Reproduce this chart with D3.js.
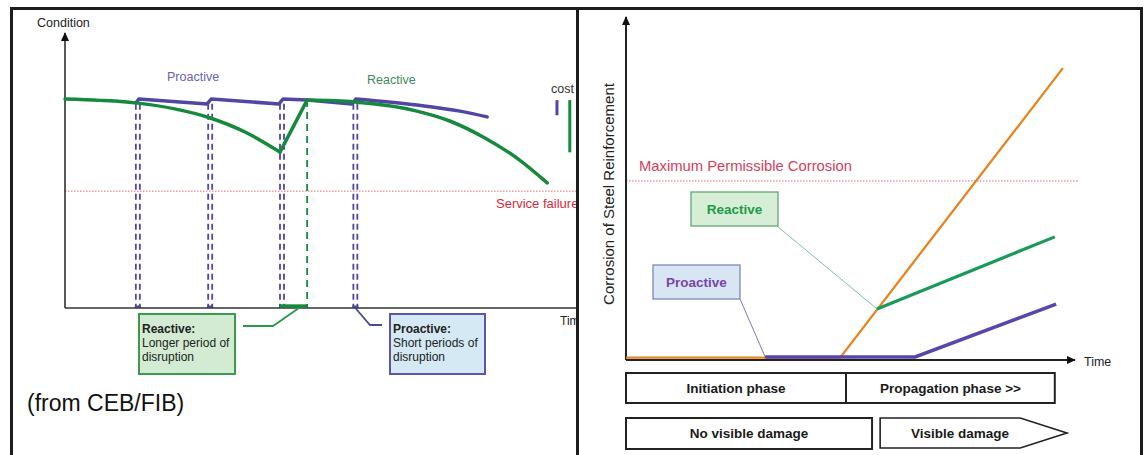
<!DOCTYPE html>
<html>
<head>
<meta charset="utf-8">
<script src="https://cdn.jsdelivr.net/npm/d3@7"></script>
<style>
  html, body { margin: 0; padding: 0; background: #fff; }
  svg { display: block; font-family: "Liberation Sans", Arial, sans-serif; }
</style>
</head>
<body>
<svg id="chart" width="1145" height="455"></svg>
<script>
// ---------------- DATA ----------------
// Left panel: condition (0-100) over time (0-100)
const reactiveDecay = [[0, 76.0], [6.8, 75.5], [14.2, 74.5], [21.4, 72.4], [28.3, 69.1], [35.1, 64.0], [41.9, 56.7]];
const reactiveRepair = [[41.9, 56.7], [47.2, 75.6]];
const reactiveAfter = [[47.2, 75.6], [56.5, 74.9], [68.6, 71.6], [75.0, 68.0], [81.5, 62.2], [88.1, 54.5], [94.0, 45.5]];
const proactiveSteps = [[13.8, 74.5], [14.4, 76.0], [27.7, 74.2], [28.5, 76.0], [41.7, 74.2], [42.5, 76.0], [47.2, 75.6], [55.9, 74.2], [56.7, 76.0]];
const proactiveTail = [[56.7, 76.0], [68.6, 73.8], [77.0, 71.6], [82.3, 69.5]];
const proactiveInterventions = [14.2, 28.3, 42.3, 56.6];
const reactiveIntervention = [47.2];
const reactiveDisruption = [41.9, 47.2];
const serviceFailure = 42.5;
const costLabels = ["Proactive", "Reactive"];
const costValues = [5.5, 19.0];
const costTimes = [95.9, 98.4];
const costTop = 75.6;

// Right panel: corrosion (0-100) over time (0-100)
const noAction = [[0, 0.7], [47.7, 0.7], [97.3, 85.1]];
const reactivePath = [[55.9, 14.9], [95.5, 35.9]];
const proactivePath = [[31.0, 0.9], [64.4, 0.9], [95.8, 16.3]];
const maxPermissible = 52.2;
const phaseNames = ["Initiation phase", "Propagation phase >>"];
const phaseBounds = [[0, 49.0], [49.0, 95.5]];
const damageNames = ["No visible damage", "Visible damage"];
const damageBounds = [[0, 54.8], [56.6, 98.2]];

// ---------------- DRAW ----------------
const svg = d3.select("#chart");
const COL = {
  frame: "#1c1c1c",
  purple: "#5046a3",
  green: "#15893c",
  red: "#e0404e",
  rOrange: "#e8831f",
  rGreen: "#199a5c",
  rPurple: "#5a45aa"
};

// arrow marker
const defs = svg.append("defs");
defs.append("marker").attr("id", "arr").attr("viewBox", "0 0 10 10")
  .attr("refX", 9).attr("refY", 5).attr("markerWidth", 9).attr("markerHeight", 9)
  .attr("markerUnits", "userSpaceOnUse").attr("orient", "auto")
  .append("path").attr("d", "M0,0.5 L10,5 L0,9.5 Z").attr("fill", "#111");
defs.append("clipPath").attr("id", "clipL").append("rect")
  .attr("x", 0).attr("y", 0).attr("width", 577).attr("height", 455);

// ===== LEFT PANEL =====
const xL = d3.scaleLinear().domain([0, 100]).range([65, 578]);
const yL = d3.scaleLinear().domain([0, 100]).range([308, 33]);
const lineL = d3.line().x(d => xL(d[0])).y(d => yL(d[1]));
const L = svg.append("g").attr("clip-path", "url(#clipL)");

// service failure line
L.append("line").attr("x1", xL(0)).attr("x2", xL(100)).attr("y1", yL(serviceFailure)).attr("y2", yL(serviceFailure))
  .attr("stroke", COL.red).attr("stroke-width", 1).attr("stroke-dasharray", "1.5,1.5").attr("opacity", 0.8);

// dashed intervention lines (double purple)
proactiveInterventions.forEach(t => {
  [-2, 2].forEach(off => {
    L.append("line").attr("x1", xL(t) + off).attr("x2", xL(t) + off)
      .attr("y1", yL(74.3)).attr("y2", yL(0))
      .attr("stroke", COL.purple).attr("stroke-width", 1.8).attr("stroke-dasharray", "6,4");
  });
  L.append("line").attr("x1", xL(t) - 3).attr("x2", xL(t) + 3).attr("y1", yL(0) - 1.5).attr("y2", yL(0) - 1.5)
    .attr("stroke", COL.purple).attr("stroke-width", 2);
});
reactiveIntervention.forEach(t => {
  L.append("line").attr("x1", xL(t)).attr("x2", xL(t)).attr("y1", yL(75.6)).attr("y2", yL(0))
    .attr("stroke", COL.green).attr("stroke-width", 1.8).attr("stroke-dasharray", "7,5");
});

// axes
L.append("line").attr("x1", xL(0)).attr("x2", xL(0)).attr("y1", yL(0)).attr("y2", yL(100))
  .attr("stroke", "#222").attr("stroke-width", 1.5).attr("marker-end", "url(#arr)");
L.append("line").attr("x1", xL(0)).attr("x2", xL(103)).attr("y1", yL(0)).attr("y2", yL(0))
  .attr("stroke", "#333").attr("stroke-width", 1.5);

// disruption segment
L.append("path").datum(reactiveDisruption.map(t => [t, 0.7])).attr("d", lineL)
  .attr("fill", "none").attr("stroke", COL.green).attr("stroke-width", 3.5);

// curves
const curveL = d3.line().x(d => xL(d[0])).y(d => yL(d[1])).curve(d3.curveMonotoneX);
L.append("path").datum(proactiveSteps).attr("d", lineL).attr("fill", "none")
  .attr("stroke", COL.purple).attr("stroke-width", 3.5).attr("stroke-linejoin", "round");
L.append("path").datum(proactiveTail).attr("d", curveL).attr("fill", "none")
  .attr("stroke", COL.purple).attr("stroke-width", 3.5).attr("stroke-linecap", "round");
[reactiveDecay, reactiveAfter].forEach(seg => {
  L.append("path").datum(seg).attr("d", curveL).attr("fill", "none")
    .attr("stroke", COL.green).attr("stroke-width", 3.5).attr("stroke-linecap", "round");
});
L.append("path").datum(reactiveRepair).attr("d", lineL).attr("fill", "none")
  .attr("stroke", COL.green).attr("stroke-width", 3.5).attr("stroke-linecap", "round");

// cost bars
costValues.forEach((v, i) => {
  L.append("line").attr("x1", xL(costTimes[i])).attr("x2", xL(costTimes[i]))
    .attr("y1", yL(costTop)).attr("y2", yL(costTop - v))
    .attr("stroke", i === 0 ? COL.purple : COL.green).attr("stroke-width", 3);
});

// texts left
L.append("text").attr("x", 37).attr("y", 27).attr("font-size", 12.5).attr("fill", "#222").text("Condition");
L.append("text").attr("x", 167).attr("y", 81).attr("font-size", 12.5).attr("fill", "#6a62b0").text("Proactive");
L.append("text").attr("x", 367).attr("y", 84).attr("font-size", 12.5).attr("fill", "#3f8a5c").text("Reactive");
L.append("text").attr("x", 551).attr("y", 93).attr("font-size", 12.5).attr("fill", "#333").text("cost");
L.append("text").attr("x", 496).attr("y", 208).attr("font-size", 13).attr("fill", "#d62a3c").text("Service failure");
L.append("text").attr("x", 560).attr("y", 325).attr("font-size", 12).attr("fill", "#222").text("Time");

// annotation boxes left
function noteBox(g, x, y, w, h, fill, stroke, lines) {
  g.append("rect").attr("x", x).attr("y", y).attr("width", w).attr("height", h)
    .attr("fill", fill).attr("stroke", stroke).attr("stroke-width", 2);
  lines.forEach((s, i) => {
    g.append("text").attr("x", x + 3).attr("y", y + 19 + i * 14).attr("font-size", 12)
      .attr("font-weight", i === 0 ? "bold" : "normal").attr("fill", "#222").text(s);
  });
}
noteBox(L, 139, 314, 96, 60, "#d3ebd3", "#3c9a50", ["Reactive:", "Longer period of", "disruption"]);
noteBox(L, 390, 314, 95, 60, "#d5e9f4", "#5a58a6", ["Proactive:", "Short periods of", "disruption"]);
L.append("path").attr("d", `M243,326 L273,326 L${xL(45.6)},${yL(0)}`)
  .attr("fill", "none").attr("stroke", "#2a9a48").attr("stroke-width", 1.8);
L.append("path").attr("d", `M${xL(56.6)},${yL(0)} L370,325 L382,325`)
  .attr("fill", "none").attr("stroke", "#4c4a98").attr("stroke-width", 1.8);

L.append("text").attr("x", 27).attr("y", 411).attr("font-size", 23).attr("fill", "#111").text("(from CEB/FIB)");

// ===== RIGHT PANEL =====
const xR = d3.scaleLinear().domain([0, 100]).range([626, 1075]);
const yR = d3.scaleLinear().domain([0, 100]).range([360, 17]);
const lineR = d3.line().x(d => xR(d[0])).y(d => yR(d[1]));
const R = svg.append("g");

R.append("line").attr("x1", xR(0)).attr("x2", xR(100.6)).attr("y1", yR(maxPermissible)).attr("y2", yR(maxPermissible))
  .attr("stroke", COL.red).attr("stroke-width", 1).attr("stroke-dasharray", "1.5,1.5").attr("opacity", 0.8);
R.append("text").attr("x", 639).attr("y", 171).attr("font-size", 14.8).attr("fill", "#d6405a")
  .text("Maximum Permissible Corrosion");

// axes
R.append("line").attr("x1", xR(0)).attr("x2", xR(0)).attr("y1", yR(0)).attr("y2", yR(100))
  .attr("stroke", "#222").attr("stroke-width", 2).attr("marker-end", "url(#arr)");
R.append("line").attr("x1", xR(0)).attr("x2", xR(100)).attr("y1", yR(0)).attr("y2", yR(0))
  .attr("stroke", "#222").attr("stroke-width", 2).attr("marker-end", "url(#arr)");
R.append("text").attr("x", 1084).attr("y", 366).attr("font-size", 12.5).attr("fill", "#222").text("Time");
R.append("text").attr("transform", `translate(608,${yR(48.4)}) rotate(-90)`).attr("text-anchor", "middle")
  .attr("dominant-baseline", "central").attr("font-size", 15).attr("fill", "#222")
  .text("Corrosion of Steel Reinforcement");

// connectors
R.append("line").attr("x1", 777).attr("y1", 226).attr("x2", xR(reactivePath[0][0])).attr("y2", yR(reactivePath[0][1]))
  .attr("stroke", "#7cc09a").attr("stroke-width", 1);
R.append("line").attr("x1", 740).attr("y1", 299).attr("x2", xR(proactivePath[0][0])).attr("y2", yR(proactivePath[0][1]))
  .attr("stroke", "#7f7ab8").attr("stroke-width", 1);

// lines
R.append("path").datum(noAction).attr("d", lineR).attr("fill", "none")
  .attr("stroke", COL.rOrange).attr("stroke-width", 2.3);
R.append("path").datum(reactivePath).attr("d", lineR).attr("fill", "none")
  .attr("stroke", COL.rGreen).attr("stroke-width", 3.2);
R.append("path").datum(proactivePath).attr("d", lineR).attr("fill", "none")
  .attr("stroke", COL.rPurple).attr("stroke-width", 3.5);

// label boxes
function labelBox(x, y, w, h, fill, stroke, color, s) {
  R.append("rect").attr("x", x).attr("y", y).attr("width", w).attr("height", h)
    .attr("fill", fill).attr("stroke", stroke).attr("stroke-width", 1.3);
  R.append("text").attr("x", x + w / 2).attr("y", y + h / 2 + 5).attr("text-anchor", "middle")
    .attr("font-size", 13.5).attr("font-weight", "bold").attr("fill", color).text(s);
}
labelBox(691, 192, 87, 34, "#d6eed6", "#62a870", "#1f9a48", "Reactive");
labelBox(653, 265, 87, 34, "#d8e6f4", "#8088ba", "#7a44a8", "Proactive");

// phase boxes
phaseNames.forEach((s, i) => {
  const [a, b] = phaseBounds[i];
  R.append("rect").attr("x", xR(a)).attr("y", 373).attr("width", xR(b) - xR(a)).attr("height", 30)
    .attr("fill", "#fff").attr("stroke", "#222").attr("stroke-width", 2);
  R.append("text").attr("x", (xR(a) + xR(b)) / 2).attr("y", 393).attr("text-anchor", "middle")
    .attr("font-size", 13.5).attr("font-weight", "bold").attr("fill", "#1a1a1a").text(s);
});
damageNames.forEach((s, i) => {
  const [a, b] = damageBounds[i];
  const x0 = xR(a), x1 = xR(b);
  if (i === 0) {
    R.append("rect").attr("x", x0).attr("y", 418).attr("width", x1 - x0).attr("height", 31)
      .attr("fill", "#fff").attr("stroke", "#222").attr("stroke-width", 2);
  } else {
    const body = xR(87.8);
    R.append("path").attr("d", `M${x0},418 L${body},418 L${x1},433 L${body},448 L${x0},448 Z`)
      .attr("fill", "#fff").attr("stroke", "#222").attr("stroke-width", 1.6);
  }
  R.append("text").attr("x", i === 0 ? (x0 + x1) / 2 : 960).attr("y", 438).attr("text-anchor", "middle")
    .attr("font-size", 13.5).attr("font-weight", "bold").attr("fill", "#1a1a1a").text(s);
});

// ===== FRAME =====
const F = svg.append("g").attr("stroke", COL.frame).attr("stroke-width", 3);
F.append("line").attr("x1", 10).attr("x2", 1143).attr("y1", 8.5).attr("y2", 8.5);
F.append("line").attr("x1", 11.5).attr("x2", 11.5).attr("y1", 7).attr("y2", 455);
F.append("line").attr("x1", 577.5).attr("x2", 577.5).attr("y1", 7).attr("y2", 455);
F.append("line").attr("x1", 1141.5).attr("x2", 1141.5).attr("y1", 7).attr("y2", 455);
</script>
</body>
</html>
